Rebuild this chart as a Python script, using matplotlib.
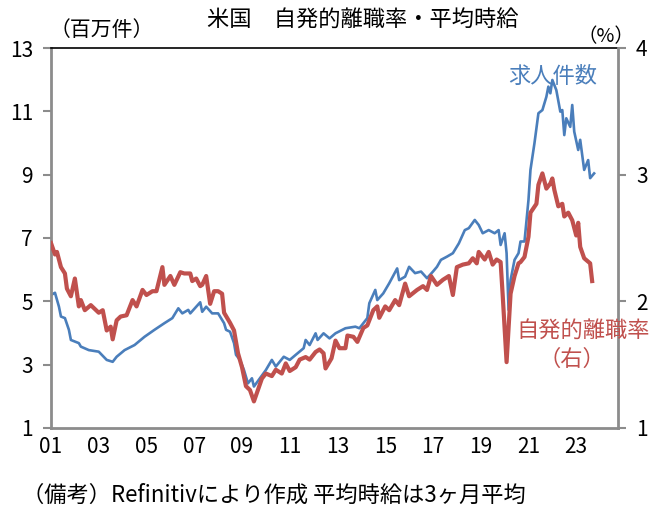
import matplotlib
matplotlib.use("Agg")
import matplotlib.pyplot as plt
import numpy as np

plt.rcParams['font.family'] = ['Noto Sans CJK JP', 'DejaVu Sans']

# months since Jan 2001
blue_m = [0,2,4,5,7,9,10,14,15,19,24,28,31,33,37,42,47,52,57,61,64,66,69,70,75,76,78,81,84,87,88,90,92,93,95,97,99,101,102,105,108,111,113,117,120,123,127,128,130,133,134,137,140,143,148,153,155,159,160,163,164,167,170,174,175,178,180,183,186,189,192,194,196,199,202,205,208,210,213,215,217,220,223,225,226,228,229,230,231,233,235,236,238,240,241,243,245,247,249,250,251,252,254,256,257,258,259,261,262,263,265,266,268,270,271,273]
# job openings, millions (left axis)
blue_v = [5.20,5.27,4.83,4.52,4.47,4.10,3.78,3.68,3.57,3.46,3.41,3.15,3.09,3.25,3.46,3.62,3.88,4.10,4.31,4.47,4.78,4.62,4.73,4.62,4.97,4.67,4.83,4.62,4.62,4.31,4.10,4.04,3.68,3.31,3.15,2.83,2.41,2.57,2.31,2.57,2.83,3.15,2.94,3.25,3.15,3.31,3.52,3.78,3.62,3.99,3.78,3.99,3.83,3.99,4.15,4.20,4.15,4.47,4.94,5.36,5.04,5.25,5.57,6.04,5.67,5.78,6.09,5.89,5.94,5.73,5.94,6.09,6.31,6.41,6.52,6.83,7.25,7.31,7.57,7.41,7.15,7.25,7.15,7.25,6.78,7.15,6.52,4.73,5.67,6.31,6.52,6.89,6.89,8.20,9.15,9.99,10.94,11.04,11.46,11.78,11.57,11.99,11.67,10.99,11.04,10.25,10.78,10.51,11.20,10.36,9.78,10.10,9.15,9.46,8.89,9.04]

red_m = [0,2,3,5,7,8,10,12,14,15,17,20,24,26,28,30,31,33,35,38,41,43,46,48,51,53,56,57,60,62,65,67,70,71,73,75,76,78,80,82,84,86,87,90,92,94,96,98,100,102,104,106,108,111,113,116,118,120,123,125,128,130,133,135,137,138,141,143,145,148,149,152,154,157,159,162,164,165,168,170,173,175,178,180,184,187,189,191,194,197,200,202,204,207,210,212,214,215,218,220,222,224,226,227,229,231,233,235,236,238,240,241,244,245,247,249,251,252,253,255,257,258,260,262,264,265,266,268,271,272]
# quits rate, % (right axis)
red_v = [2.46,2.37,2.39,2.27,2.22,2.10,2.04,2.18,1.96,2.01,1.93,1.97,1.91,1.93,1.77,1.80,1.70,1.85,1.88,1.89,2.01,1.96,2.09,2.05,2.08,2.08,2.27,2.13,2.20,2.13,2.23,2.22,2.22,2.16,2.18,2.12,2.13,2.20,1.98,2.08,2.08,2.06,1.91,1.83,1.77,1.59,1.48,1.33,1.30,1.21,1.30,1.39,1.43,1.41,1.46,1.43,1.51,1.45,1.48,1.54,1.56,1.54,1.60,1.62,1.59,1.47,1.55,1.69,1.63,1.63,1.73,1.72,1.68,1.79,1.81,1.93,1.96,1.87,1.96,1.93,2.01,1.97,2.14,2.04,2.09,2.12,2.09,2.20,2.13,2.17,2.20,2.05,2.27,2.29,2.30,2.34,2.30,2.39,2.33,2.39,2.29,2.33,2.31,2.06,1.52,2.06,2.20,2.30,2.31,2.35,2.51,2.70,2.77,2.92,3.01,2.89,2.93,2.97,2.88,2.75,2.77,2.67,2.70,2.64,2.52,2.62,2.43,2.34,2.30,2.16]

x_tick_m = [0,24,48,72,96,120,144,168,192,216,240,264]
x_tick_labels = ["01","03","05","07","09","11","13","15","17","19","21","23"]
left_ticks = [1,3,5,7,9,11,13]
right_ticks = [1,2,3,4]

BLUE = '#4A7EBB'
RED = '#C0504D'
GRAY = '#8C8C8C'

fig = plt.figure(figsize=(6.6, 5.12), dpi=100)
ax = fig.add_axes([51/660, 1-428/512, 567/660, 380/512])
ax2 = ax.twinx()

ax.plot(blue_m, blue_v, color=BLUE, lw=1.9, solid_joinstyle='round')
ax2.plot(red_m, red_v, color=RED, lw=3.0, solid_joinstyle='round')

ax.set_xlim(0, 285)
ax.set_ylim(1, 13)
ax2.set_ylim(1, 4)
ax.set_xticks(x_tick_m)
ax.set_xticklabels(x_tick_labels)
ax.set_yticks(left_ticks)
ax2.set_yticks(right_ticks)

for lab in ax.get_xticklabels() + ax.get_yticklabels() + ax2.get_yticklabels():
    lab.set_fontsize(15)

ax.tick_params(axis='x', length=0, pad=6)
ax.tick_params(axis='y', direction='out', length=6, width=1.5, color=GRAY, pad=7)
ax2.tick_params(axis='y', direction='out', length=6, width=1.5, color=GRAY, pad=7)

for s in ['left', 'bottom']:
    ax.spines[s].set_color(GRAY)
    ax.spines[s].set_linewidth(2)
ax.spines['top'].set_color('black')
ax.spines['top'].set_linewidth(1.2)
ax.spines['right'].set_visible(False)
for s in ['left', 'bottom', 'top']:
    ax2.spines[s].set_visible(False)
ax2.spines['right'].set_color(GRAY)
ax2.spines['right'].set_linewidth(2)

fig.text(363/660, 1-20/512, '米国　自発的離職率・平均時給', ha='center', va='center', fontsize=16)
fig.text(50/660, 1-30/512, '（百万件）', ha='left', va='center', fontsize=15)
fig.text(634/660, 1-37/512, '（%）', ha='right', va='center', fontsize=14)
fig.text(553/660, 1-76/512, '求人件数', ha='center', va='center', fontsize=16, color=BLUE)
fig.text(650/660, 1-330/512, '自発的離職率', ha='right', va='center', fontsize=16, color=RED)
fig.text(605/660, 1-359/512, '（右）', ha='right', va='center', fontsize=16, color=RED)
fig.text(22/660, 1-495/512, '（備考）Refinitivにより作成 平均時給は3ヶ月平均', ha='left', va='center',
         fontsize=16)

fig.savefig('out.png', dpi=100, facecolor='white')
